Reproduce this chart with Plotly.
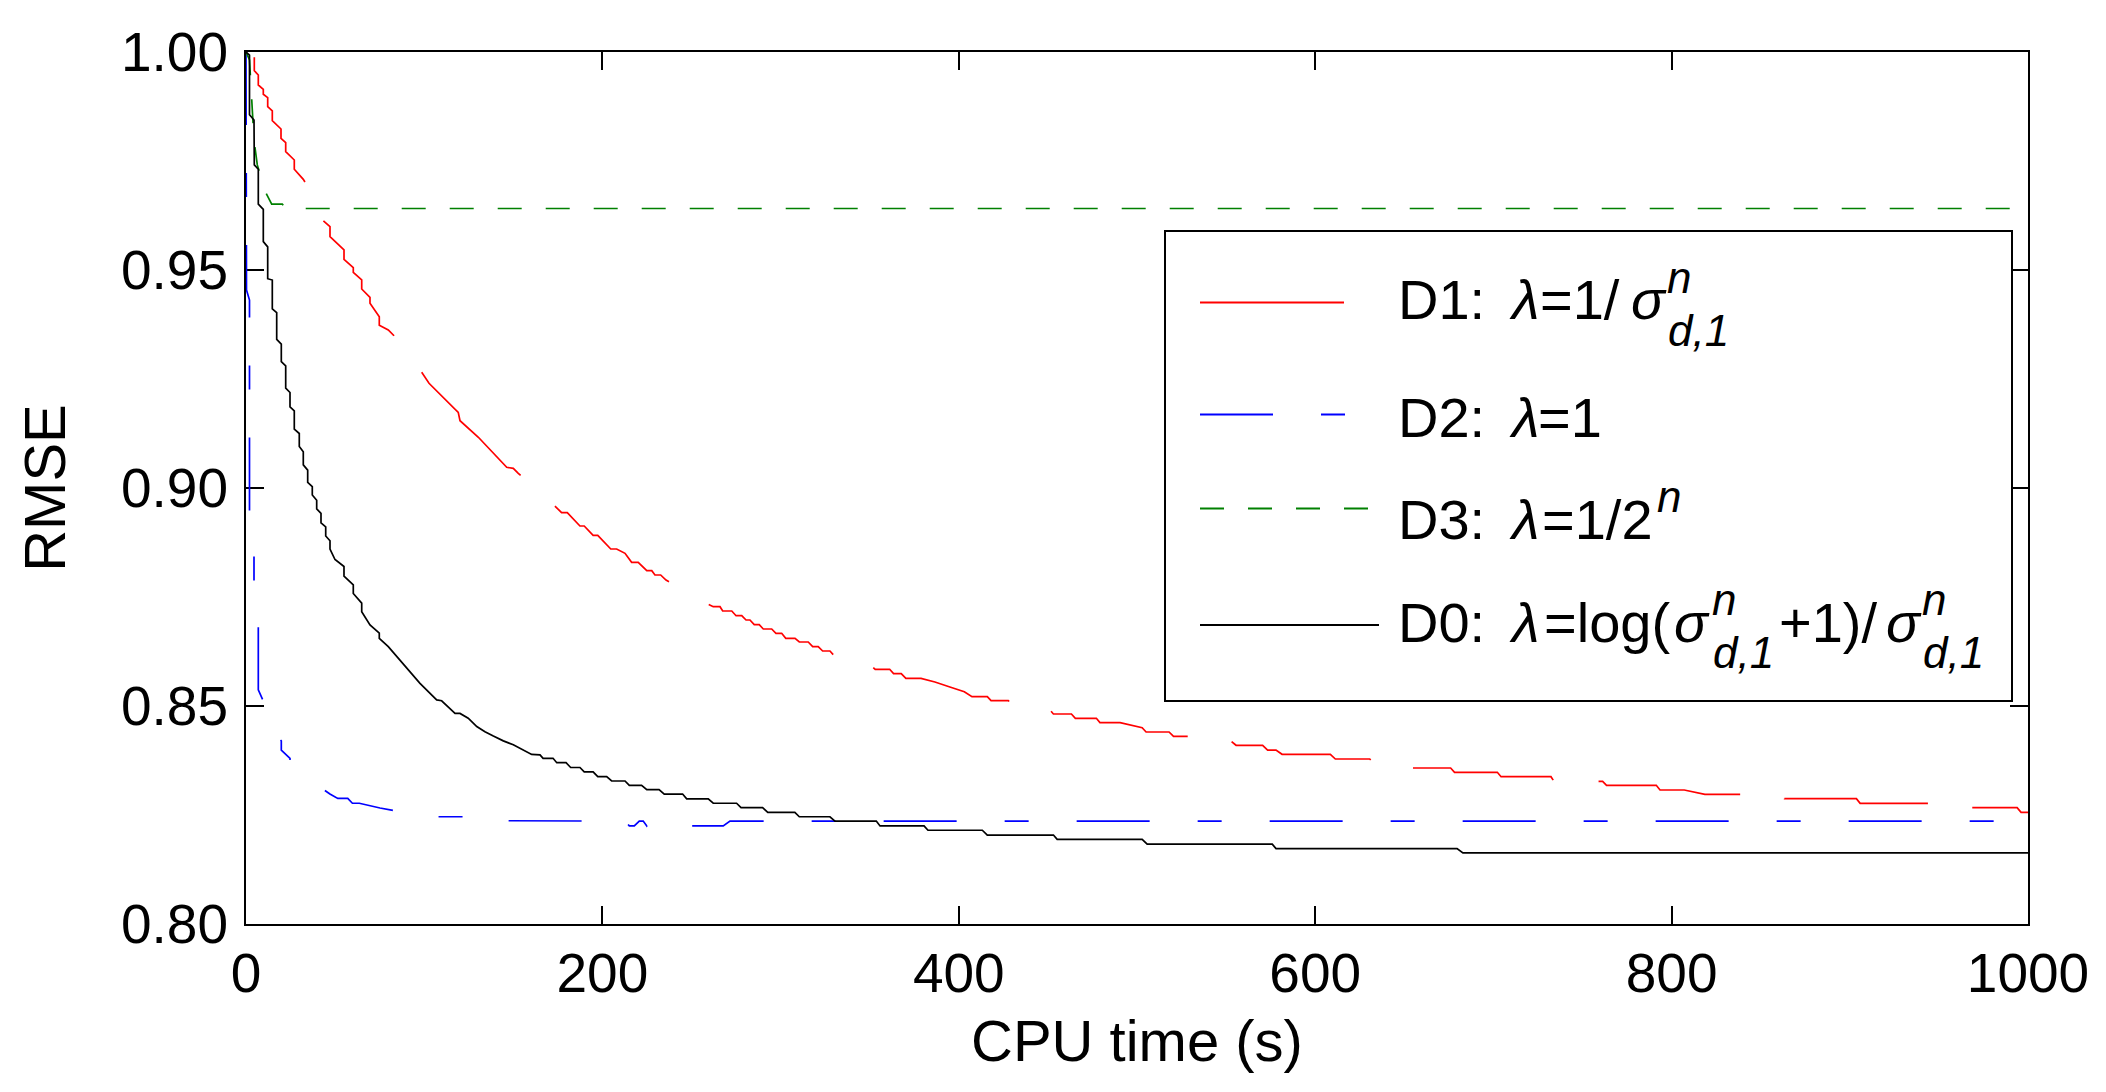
import plotly.graph_objects as go

# ---------------- data ----------------
x_ticks = [0, 200, 400, 600, 800, 1000]
y_ticks = [0.80, 0.85, 0.90, 0.95, 1.00]

series_names = ["D1", "D2", "D3", "D0"]

# D1 (red)
d1_time = [4.66, 4.66, 6.9, 6.9, 9.71, 9.71, 12.18, 12.18, 14.76, 14.76,
           19.64, 19.64, 22.28, 22.28, 27.1, 27.1, 32.15, 33.1, 37.7, 37.7,
           40.3, 40.3, 43.38, 47.14, 47.14, 55.0, 55.0, 60.21, 60.21, 64.93,
           64.93, 69.58, 69.58, 74.8, 74.8, 79.85, 83.05, 86.4, 90.9, 94.3,
           98.6, 102.7, 119.1, 120.1, 130.4, 146.3, 150.0, 152.8, 162.2, 172.4,
           177.1, 180.3, 187.4, 189.8, 194.8, 197.4, 204.7, 208.0, 212.7, 216.4,
           220.1, 224.9, 227.7, 229.5, 232.7, 235.7, 243.5, 250.3, 257.2, 262.2,
           266.0, 267.5, 272.6, 275.0, 278.2, 280.6, 282.8, 285.2, 288.0, 290.3,
           295.0, 297.4, 300.6, 302.9, 308.1, 310.5, 315.5, 318.0, 321.1, 323.6,
           327.7, 330.1, 333.3, 335.5, 343.0, 345.1, 350.5, 353.1, 361.2, 363.4,
           367.7, 370.3, 378.8, 386.6, 395.0, 403.1, 407.4, 416.0, 418.1, 427.8,
           430.4, 438.1, 440.7, 451.0, 453.1, 463.2, 465.4, 477.2, 479.2, 490.5,
           502.9, 505.1, 518.0, 520.5, 535.6, 538.3, 552.7, 555.6, 570.5, 573.3,
           578.0, 581.4, 608.5, 611.3, 630.6, 632.8, 651.1, 653.2, 676.0, 678.2,
           702.2, 704.3, 732.3, 734.0, 761.3, 763.5, 791.4, 793.5, 807.1, 818.7,
           861.2, 863.3, 903.7, 905.8, 946.0, 948.8, 993.9, 996.1, 1000]
d1_rmse = [0.99878, 0.99571, 0.99472, 0.99243, 0.99144, 0.9903, 0.98952, 0.98745, 0.98647, 0.98424,
           0.98234, 0.98021, 0.9792, 0.97713, 0.97523, 0.9731, 0.9708, 0.97018, 0.9672, 0.9649,
           0.96376, 0.96216, 0.96131, 0.95993, 0.95764, 0.95459, 0.95245, 0.95053, 0.94947, 0.94771,
           0.94564, 0.94374, 0.94236, 0.93929, 0.93732, 0.93624, 0.93493, 0.9328, 0.9312, 0.9287,
           0.92654, 0.92401, 0.91736, 0.91544, 0.91163, 0.90475, 0.90452, 0.90337, 0.9, 0.89626,
           0.89433, 0.89433, 0.89128, 0.89128, 0.88915, 0.88915, 0.88601, 0.88601, 0.88502, 0.88296,
           0.88296, 0.88103, 0.88103, 0.88005, 0.88005, 0.8789, 0.87706, 0.875, 0.87378, 0.87277,
           0.87277, 0.87179, 0.87179, 0.87071, 0.87071, 0.86972, 0.86972, 0.86865, 0.86865, 0.86766,
           0.86766, 0.86667, 0.86667, 0.86553, 0.86553, 0.86468, 0.86468, 0.8636, 0.8636, 0.86261,
           0.86261, 0.86154, 0.86154, 0.86055, 0.86055, 0.8594, 0.8594, 0.85842, 0.85842, 0.85741,
           0.85741, 0.85635, 0.85635, 0.8555, 0.85436, 0.85328, 0.85214, 0.85214, 0.85122, 0.85122,
           0.85016, 0.85016, 0.84915, 0.84915, 0.84817, 0.84817, 0.84718, 0.84718, 0.8462, 0.8462,
           0.84503, 0.84404, 0.84404, 0.84305, 0.84305, 0.84197, 0.84197, 0.84099, 0.84099, 0.8399,
           0.8399, 0.83892, 0.83892, 0.83784, 0.83784, 0.83686, 0.83686, 0.83578, 0.83578, 0.83479,
           0.83479, 0.83379, 0.83379, 0.83273, 0.83273, 0.83181, 0.83181, 0.83073, 0.83073, 0.82975,
           0.82975, 0.82874, 0.82874, 0.82768, 0.82768, 0.82667, 0.82667, 0.82562, 0.82562]

# D2 (blue)
d2_time = [0, 0.28, 1.96, 1.96, 4.49, 4.49, 6.9, 6.9, 11.95, 11.95,
           14.76, 14.76, 19.81, 19.81, 24.69, 24.69, 30.3, 35.9, 41.5, 47.1,
           51.5, 57.1, 59.7, 63.6, 75.2, 88.8, 97.6, 99.5, 125.3, 127.0,
           212.7, 215.1, 217.9, 220.7, 222.9, 224.9, 225.8, 226.7, 254.8, 267.8,
           271.6, 1000]
d2_rmse = [1.0, 0.9454, 0.9431, 0.8869, 0.8860, 0.8732, 0.8716, 0.8537, 0.8491, 0.8470,
           0.8462, 0.8439, 0.8420, 0.8399, 0.8380, 0.8366, 0.8346, 0.8330, 0.8312, 0.8298,
           0.8288, 0.8288, 0.8277, 0.8277, 0.8266, 0.8256, 0.8256, 0.8246, 0.8246, 0.8237,
           0.8236, 0.8225, 0.8225, 0.8236, 0.8236, 0.8225, 0.8231, 0.8225, 0.8225, 0.8225,
           0.8236, 0.8236]

# D3 (green)
d3_time = [0, 1.96, 4.49, 5.05, 6.34, 8.98, 11.05, 14.42, 20.37, 22.4, 1000]
d3_rmse = [1.0, 0.9982, 0.9798, 0.9778, 0.9741, 0.9706, 0.9678, 0.9651, 0.9651, 0.9641, 0.9641]

# D0 (black)
d0_time = [0, 1.96, 1.96, 4.49, 4.66, 6.9, 6.9, 9.71, 9.71, 12.18,
           12.18, 14.76, 14.76, 17.23, 17.23, 19.81, 19.81, 22.28, 22.28, 24.69,
           24.69, 27.1, 27.1, 29.9, 29.9, 32.15, 32.15, 34.62, 34.62, 37.2,
           37.2, 39.67, 39.67, 42.09, 42.09, 44.73, 44.73, 47.14, 47.14, 49.94,
           54.99, 54.99, 60.21, 60.21, 64.93, 64.93, 69.58, 74.8, 74.8, 79.85,
           97.64, 107.0, 109.8, 117.3, 120.1, 124.7, 129.5, 134.1, 138.8, 144.4,
           150.0, 154.7, 160.3, 165.0,
           166.7, 172.3, 174.4, 179.6, 182.2, 187.4, 189.8, 194.8, 197.4, 202.4,
           205.2, 212.7, 215.1, 222.0, 224.9, 231.8, 234.7, 245.0, 247.3, 259.4,
           262.2, 275.3, 277.8, 289.9, 292.8, 308.0, 310.5, 327.7, 330.5, 353.7,
           355.8, 380.5, 382.7, 413.2, 416.0, 453.1, 455.2, 502.9, 505.7, 575.9,
           578.0, 679.6, 682.9, 1000]
d0_rmse = [1.0, 0.9993, 0.9856, 0.9844, 0.9741, 0.9731, 0.9651, 0.9639, 0.9565, 0.9553,
           0.9480, 0.9477, 0.9411, 0.9402, 0.9341, 0.9330, 0.9290, 0.9280, 0.9229, 0.9219,
           0.9186, 0.9177, 0.9135, 0.9125, 0.9095, 0.9083, 0.9053, 0.9041, 0.9013, 0.9003,
           0.8984, 0.8972, 0.8952, 0.8942, 0.8920, 0.8911, 0.8890, 0.8879, 0.8860, 0.8836,
           0.8820, 0.8798, 0.8778, 0.8758, 0.8736, 0.8716, 0.8686, 0.8667, 0.8655, 0.8636,
           0.8552, 0.8514, 0.8512, 0.8483, 0.8483, 0.8472, 0.8453, 0.8441, 0.8431, 0.8420,
           0.8411, 0.8401, 0.8389, 0.8388,
           0.8380, 0.8380, 0.8370, 0.8370, 0.8359, 0.8359, 0.8349, 0.8349, 0.8338, 0.8338,
           0.8328, 0.8328, 0.8318, 0.8318, 0.8308, 0.8308, 0.8298, 0.8298, 0.8287, 0.8287,
           0.8277, 0.8277, 0.8267, 0.8267, 0.8256, 0.8256, 0.8246, 0.8246, 0.8236, 0.8236,
           0.8225, 0.8225, 0.8215, 0.8215, 0.8204, 0.8204, 0.8194, 0.8194, 0.8183, 0.8183,
           0.8173, 0.8173, 0.8163, 0.8163]

for a, b in [(d1_time, d1_rmse), (d2_time, d2_rmse), (d3_time, d3_rmse), (d0_time, d0_rmse)]:
    assert len(a) == len(b)

# ---------------- styling ----------------
FONT = "Liberation Sans, Arial, sans-serif"
W, H = 2106, 1092
L, R, T, B = 246, 2028, 52, 924          # plot area in pixels

RED, BLUE, GREEN, BLACK = "#FF0000", "#0000FF", "#008000", "#000000"
DASH_D1 = "146px,46px"
DASH_D2 = "73px,48px,24px,48px"
DASH_D3 = "24px,24px"
LW = 1.7


def px(X):
    return (X - L) / (R - L)


def py(Y):
    return (B - Y) / (B - T)


fig = go.Figure()
fig.add_trace(go.Scatter(x=d1_time, y=d1_rmse, mode="lines", name=series_names[0],
                         line=dict(color=RED, width=LW, dash=DASH_D1)))
fig.add_trace(go.Scatter(x=d2_time, y=d2_rmse, mode="lines", name=series_names[1],
                         line=dict(color=BLUE, width=LW, dash=DASH_D2)))
fig.add_trace(go.Scatter(x=d3_time, y=d3_rmse, mode="lines", name=series_names[2],
                         line=dict(color=GREEN, width=LW, dash=DASH_D3)))
fig.add_trace(go.Scatter(x=d0_time, y=d0_rmse, mode="lines", name=series_names[3],
                         line=dict(color=BLACK, width=LW)))

axis_common = dict(
    showline=True, linecolor="black", linewidth=2, mirror="ticks",
    ticks="inside", ticklen=18, tickwidth=1.5, tickcolor="black",
    showgrid=False, zeroline=False, layer="below traces",
    tickfont=dict(family=FONT, size=55, color="black"),
)

fig.update_layout(
    width=W, height=H, autosize=False,
    margin=dict(l=L, r=W - R, t=T, b=H - B, pad=0),
    paper_bgcolor="white", plot_bgcolor="white",
    showlegend=False,
    font=dict(family=FONT, color="black"),
    xaxis=dict(range=[0, 1000], tickmode="array", tickvals=x_ticks,
               ticktext=[str(v) for v in x_ticks], ticklabelstandoff=0,
               title=dict(text="CPU time (s)", font=dict(family=FONT, size=58), standoff=17),
               automargin=False, **axis_common),
    yaxis=dict(range=[0.8, 1.0], tickmode="array", tickvals=y_ticks,
               ticktext=["%.2f" % v for v in y_ticks], ticklabelstandoff=5,
               title=dict(text="RMSE", font=dict(family=FONT, size=58), standoff=37),
               automargin=False, **axis_common),
)

# ---------------- hand-drawn legend (MATLAB-style) ----------------
shapes = [dict(type="rect", xref="paper", yref="paper",
               x0=px(1165), x1=px(2012), y0=py(701), y1=py(231),
               line=dict(color="black", width=2), fillcolor="white", layer="above")]
legend_rows = [(RED, None, 302.6), (BLUE, DASH_D2, 414.6), (GREEN, DASH_D3, 508.4), (BLACK, None, 624.9)]
for color, dash, ypix in legend_rows:
    ln = dict(color=color, width=2)
    if dash:
        ln["dash"] = dash
    x_end = 1344 if color == RED else 1379
    shapes.append(dict(type="line", xref="paper", yref="paper",
                       x0=px(1200), x1=px(x_end), y0=py(ypix), y1=py(ypix),
                       line=ln, layer="above"))
fig.update_layout(shapes=shapes)

MAIN, SMALL = 56, 44
pieces = [
    # text, center-x px, baseline px, size
    ("D1:", 1441.6, 319.3, MAIN), ("<i>λ</i>", 1524, 319.3, MAIN), ("=1/", 1580, 319.3, MAIN),
    ("<i>σ</i>", 1649, 319.3, MAIN), ("<i>n</i>", 1679, 293, SMALL), ("<i>d,1</i>", 1698.5, 346, SMALL),

    ("D2:", 1441.6, 436.8, MAIN), ("<i>λ</i>", 1524, 436.8, MAIN), ("=1", 1570, 436.8, MAIN),

    ("D3:", 1441.6, 538.6, MAIN), ("<i>λ</i>", 1524, 538.6, MAIN), ("=1/2", 1597, 538.6, MAIN),
    ("<i>n</i>", 1669, 512, SMALL),

    ("D0:", 1441.6, 642, MAIN), ("<i>λ</i>", 1524, 642, MAIN), ("=log(", 1607, 642, MAIN),
    ("<i>σ</i>", 1691.5, 642, MAIN), ("<i>n</i>", 1724, 615, SMALL), ("<i>d,1</i>", 1743, 668, SMALL),
    ("+1)/", 1828, 642, MAIN), ("<i>σ</i>", 1903.5, 642, MAIN), ("<i>n</i>", 1934, 615, SMALL),
    ("<i>d,1</i>", 1953, 668, SMALL),
]
for text, xc, base, size in pieces:
    fig.add_annotation(text=text, xref="paper", yref="paper",
                       x=px(xc), y=py(base - 0.3465 * size),
                       xanchor="center", yanchor="middle", showarrow=False,
                       font=dict(family=FONT, size=size, color="black"), borderpad=0)

fig.write_html("out.html", config={"displayModeBar": False},
               post_script="document.body.style.margin='0px';")
